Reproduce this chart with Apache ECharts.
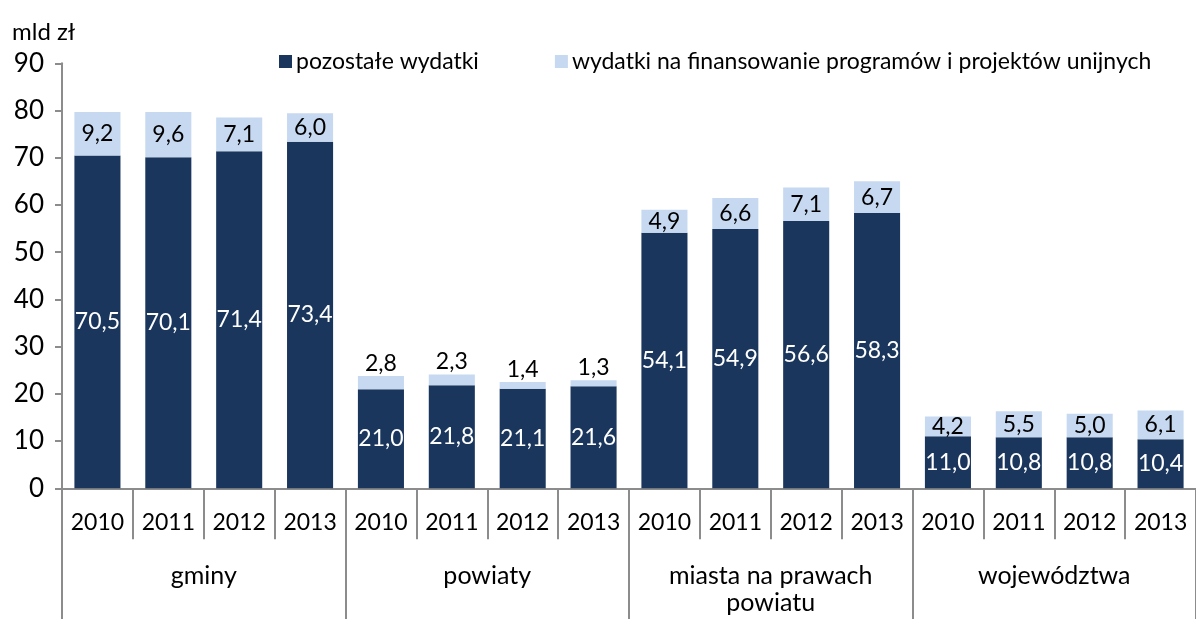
<!DOCTYPE html>
<html><head><meta charset="utf-8">
<script src="https://cdn.jsdelivr.net/npm/echarts@6/dist/echarts.min.js"></script>
<style>html,body{margin:0;padding:0;background:#fff}#c{width:1196px;height:619px}</style>
</head><body><div id="c"></div>
<script>
const years = ['2010','2011','2012','2013','2010','2011','2012','2013','2010','2011','2012','2013','2010','2011','2012','2013'];
const groups = ['gminy','powiaty','miasta na prawach\npowiatu','województwa'];
const pozostale = [70.5,70.1,71.4,73.4,21.0,21.8,21.1,21.6,54.1,54.9,56.6,58.3,11.0,10.8,10.8,10.4];
const unijne = [9.2,9.6,7.1,6.0,2.8,2.3,1.4,1.3,4.9,6.6,7.1,6.7,4.2,5.5,5.0,6.1];
const yTicks = [0,10,20,30,40,50,60,70,80,90];
const seriesNames = ['pozostałe wydatki','wydatki na finansowanie programów i projektów unijnych'];

const FONT = 'Lato';
const fmt = v => v.toFixed(1).replace('.', ',');
const axisColor = '#8c8c8c';

const chart = echarts.init(document.getElementById('c'), null, {renderer:'canvas'});
chart.setOption({
  animation:false,
  textStyle:{fontFamily:FONT},
  grid:{left:62, top:63.3, width:1141, height:425, containLabel:false},
  title:{text:'mld zł', left:7, top:15, textStyle:{fontFamily:FONT, fontSize:24, fontWeight:'normal', color:'#000'}},
  legend:{left:274, top:45, itemWidth:13, itemHeight:13, itemGap:76,
    icon:'rect',
    textStyle:{fontFamily:FONT, fontSize:23, color:'#000', padding:[0,0,0,-1]},
    data:seriesNames},
  xAxis:[
    {type:'category', data:years, position:'bottom',
     axisLine:{show:true, lineStyle:{color:axisColor, width:2}},
     axisTick:{show:true, interval:0, length:51, lineStyle:{color:axisColor, width:2}},
     axisLabel:{interval:0, margin:23, fontFamily:FONT, fontSize:23, color:'#000'}},
    {type:'category', data:groups, position:'bottom',
     axisLine:{show:false},
     axisTick:{show:true, interval:0, length:131, lineStyle:{color:axisColor, width:2}},
     axisLabel:{interval:0, margin:74, fontFamily:FONT, fontSize:25, color:'#000', lineHeight:27}}
  ],
  yAxis:{type:'value', min:yTicks[0], max:yTicks[yTicks.length-1], interval:10,
    axisLine:{show:true, lineStyle:{color:axisColor, width:2}},
    axisTick:{show:true, length:7, lineStyle:{color:axisColor, width:2}},
    splitLine:{show:false},
    axisLabel:{margin:18, fontFamily:FONT, fontSize:26, color:'#000'}},
  series:[
    {name:seriesNames[0], type:'bar', stack:'s', xAxisIndex:0, barCategoryGap:'35%',
     itemStyle:{color:'#1a365d'},
     label:{show:true, position:'inside', color:'#fff', fontFamily:FONT, fontSize:23, formatter:p=>fmt(p.value)},
     data:pozostale},
    {name:seriesNames[1], type:'bar', stack:'s', xAxisIndex:0, barCategoryGap:'35%',
     itemStyle:{color:'#c6d9f1'},
     label:{show:true, position:'inside', color:'#000', fontFamily:FONT, fontSize:23, formatter:p=>fmt(p.value)},
     data:unijne.map(v => v < 3 ? {value:v, label:{position:'top', distance:1}} : v)}
  ]
});
</script></body></html>
